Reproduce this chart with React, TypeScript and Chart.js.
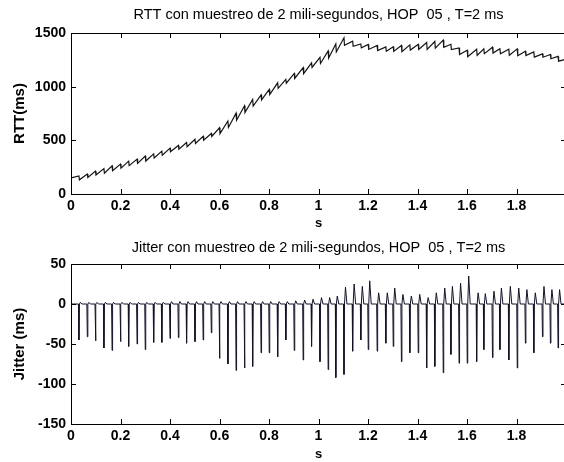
import React, { useEffect, useRef } from 'react';
import { Chart, registerables } from 'chart.js';

Chart.register(...registerables);

const rttTitle = 'RTT con muestreo de 2 mili-segundos, HOP  05 , T=2 ms';
const jitterTitle = 'Jitter con muestreo de 2 mili-segundos, HOP  05 , T=2 ms';
const rttAxisLabel = 'RTT(ms)';
const jitterAxisLabel = 'Jitter (ms)';
const timeAxisLabel = 's';

// sampling period (s)
const samplePeriod = 0.002;

// instants (s) where RTT drops / jitter spikes
const spikeTimes = [
  0.032, 0.066, 0.099, 0.133, 0.166, 0.200, 0.233, 0.267, 0.300, 0.334,
  0.367, 0.400, 0.434, 0.467, 0.501, 0.534, 0.567, 0.600, 0.634, 0.667,
  0.701, 0.734, 0.768, 0.801, 0.835, 0.868, 0.902, 0.938, 0.972, 1.006,
  1.039, 1.070, 1.103, 1.138, 1.171, 1.201, 1.237, 1.272, 1.302, 1.335,
  1.369, 1.403, 1.437, 1.470, 1.504, 1.535, 1.568, 1.601, 1.639, 1.668,
  1.703, 1.733, 1.769, 1.803, 1.836, 1.870, 1.905, 1.937, 1.968,
];

// RTT just before each drop (ms)
const rttPeaks = [
  168, 186, 213, 237, 263, 279, 306, 325, 353, 374,
  399, 427, 452, 480, 509, 538, 564, 617, 680, 753,
  822, 881, 924, 974, 1036, 1068, 1123, 1178, 1221, 1274,
  1333, 1397, 1455, 1424, 1398, 1393, 1384, 1370, 1371, 1384,
  1389, 1394, 1412, 1421, 1434, 1395, 1360, 1340, 1349, 1353,
  1367, 1353, 1348, 1352, 1330, 1324, 1306, 1300, 1282,
];

// RTT just after each drop (ms)
const rttTroughs = [
  132, 154, 177, 193, 217, 241, 264, 285, 307, 336,
  361, 393, 418, 440, 471, 502, 536, 563, 620, 687,
  758, 819, 876, 926, 984, 1032, 1077, 1122, 1179, 1216,
  1267, 1323, 1385, 1376, 1362, 1347, 1336, 1330, 1329, 1326,
  1341, 1346, 1348, 1359, 1366, 1345, 1300, 1280, 1291, 1307,
  1313, 1307, 1292, 1288, 1290, 1276, 1274, 1260, 1238,
];

const rttStart = { t: 0, v: 150 };
const rttEnd = { t: 1.998, v: 1255 };

// negative jitter spikes (ms)
const jitterNeg = [
  -45, -41, -46, -55, -58, -47, -53, -50, -57, -48,
  -48, -43, -42, -49, -47, -45, -36, -68, -75, -83,
  -80, -78, -61, -61, -66, -45, -58, -70, -53, -72,
  -82, -92, -88, -59, -45, -57, -59, -49, -53, -72,
  -61, -61, -80, -78, -86, -63, -74, -74, -72, -57,
  -67, -57, -70, -80, -49, -61, -41, -49, -55,
];

// positive rebound after each spike (ms)
const jitterPos = [
  2, 2, 2, 2, 2, 2, 2, 2, 2, 2,
  2, 3, 3, 3, 3, 3, 3, 3, 3, 3,
  3, 3, 3, 3, 3, 3, 4, 5, 6, 8,
  8, 10, 21, 25, 22, 29, 14, 14, 20, 12,
  10, 12, 8, 14, 20, 22, 26, 35, 14, 13,
  16, 20, 22, 20, 18, 14, 22, 18, 18,
];

const xMin = 0;
const xMax = 2;
const xStep = 0.2;
const rttMin = 0;
const rttMax = 1500;
const rttStep = 500;
const jitMin = -150;
const jitMax = 50;
const jitStep = 50;

const FONT = '"Liberation Sans", Arial, Helvetica, sans-serif';

const rttPoints = (() => {
  const pts: { x: number; y: number }[] = [{ x: rttStart.t, y: rttStart.v }];
  spikeTimes.forEach((t, i) => {
    pts.push({ x: t, y: rttPeaks[i] });
    pts.push({ x: t + samplePeriod, y: rttTroughs[i] });
  });
  pts.push({ x: rttEnd.t, y: rttEnd.v });
  return pts;
})();

const jitterPoints = (() => {
  const pts: { x: number; y: number }[] = [{ x: xMin, y: 0 }];
  spikeTimes.forEach((t, i) => {
    pts.push({ x: t - samplePeriod, y: 0 });
    pts.push({ x: t, y: jitterNeg[i] });
    pts.push({ x: t + samplePeriod, y: 0 });
    pts.push({ x: t + 3 * samplePeriod, y: jitterPos[i] });
    pts.push({ x: t + 6 * samplePeriod, y: 0 });
  });
  pts.push({ x: xMax, y: 0 });
  return pts;
})();

const boxPlugin = {
  id: 'matlabBox',
  afterDraw(chart: any) {
    const { ctx, chartArea: a, scales } = chart;
    const xs = scales.x;
    const ys = scales.y;
    ctx.save();
    ctx.strokeStyle = '#000';
    ctx.lineWidth = 1;
    ctx.strokeRect(a.left + 0.5, a.top + 0.5, a.right - a.left, a.bottom - a.top);
    ctx.beginPath();
    xs.ticks.forEach((tk: any) => {
      const p = Math.round(xs.getPixelForValue(tk.value)) + 0.5;
      if (p > a.left + 2 && p < a.right - 2) {
        ctx.moveTo(p, a.bottom);
        ctx.lineTo(p, a.bottom - 5);
        ctx.moveTo(p, a.top);
        ctx.lineTo(p, a.top + 5);
      }
    });
    ys.ticks.forEach((tk: any) => {
      const p = Math.round(ys.getPixelForValue(tk.value)) + 0.5;
      if (p > a.top + 2 && p < a.bottom - 2) {
        ctx.moveTo(a.left, p);
        ctx.lineTo(a.left + 5, p);
        ctx.moveTo(a.right, p);
        ctx.lineTo(a.right - 5, p);
      }
    });
    ctx.stroke();
    ctx.restore();
  },
};

function makeConfig(opts: {
  points: { x: number; y: number }[];
  color: string;
  width: number;
  title: string;
  titlePad: { top: number; bottom: number };
  yLabel: string;
  yMin: number;
  yMax: number;
  yStep: number;
  xAxisHeight: number;
}) {
  return {
    type: 'line' as const,
    data: {
      datasets: [
        {
          data: opts.points,
          borderColor: opts.color,
          borderWidth: opts.width,
          pointRadius: 0,
          tension: 0,
          fill: false,
        },
      ],
    },
    options: {
      animation: false as const,
      responsive: false,
      events: [],
      layout: { padding: { left: 0, right: 14, top: 0, bottom: 0 } },
      plugins: {
        legend: { display: false },
        tooltip: { enabled: false },
        title: {
          display: true,
          text: opts.title,
          fullSize: false,
          color: '#000',
          font: { family: FONT, size: 14.5, weight: 'normal' as const },
          padding: opts.titlePad,
        },
      },
      scales: {
        x: {
          type: 'linear' as const,
          min: xMin,
          max: xMax,
          grid: { display: false, drawTicks: false },
          border: { display: false },
          ticks: {
            stepSize: xStep,
            padding: 4,
            maxRotation: 0,
            autoSkip: false,
            color: '#000',
            font: { family: FONT, size: 14, weight: 'bold' as const },
            callback: (v: any) => {
              const n = Number(Number(v).toFixed(1));
              return n >= xMax ? '' : String(n);
            },
          },
          title: {
            display: true,
            text: timeAxisLabel,
            color: '#000',
            font: { family: FONT, size: 13, weight: 'bold' as const },
            padding: { top: 0, bottom: 0 },
          },
          afterFit: (s: any) => {
            s.height = opts.xAxisHeight;
          },
        },
        y: {
          type: 'linear' as const,
          min: opts.yMin,
          max: opts.yMax,
          grid: { display: false, drawTicks: false },
          border: { display: false },
          ticks: {
            stepSize: opts.yStep,
            padding: 5,
            color: '#000',
            font: { family: FONT, size: 14, weight: 'bold' as const },
            callback: (v: any) => String(Number(v)),
          },
          title: {
            display: true,
            text: opts.yLabel,
            color: '#000',
            font: { family: FONT, size: 15, weight: 'bold' as const },
            padding: { top: 11, bottom: 0 },
          },
          afterFit: (s: any) => {
            s.width = 71;
          },
        },
      },
    },
    plugins: [boxPlugin],
  };
}

export default function App() {
  const topRef = useRef<HTMLCanvasElement>(null);
  const botRef = useRef<HTMLCanvasElement>(null);

  useEffect(() => {
    const c1 = new Chart(
      topRef.current as HTMLCanvasElement,
      makeConfig({
        points: rttPoints,
        color: '#141414',
        width: 1.2,
        title: rttTitle,
        titlePad: { top: 5.8, bottom: 9.8 },
        yLabel: rttAxisLabel,
        yMin: rttMin,
        yMax: rttMax,
        yStep: rttStep,
        xAxisHeight: 37,
      }) as any
    );
    const c2 = new Chart(
      botRef.current as HTMLCanvasElement,
      makeConfig({
        points: jitterPoints,
        color: '#12122a',
        width: 1,
        title: jitterTitle,
        titlePad: { top: 8.3, bottom: 7.3 },
        yLabel: jitterAxisLabel,
        yMin: jitMin,
        yMax: jitMax,
        yStep: jitStep,
        xAxisHeight: 38,
      }) as any
    );
    return () => {
      c1.destroy();
      c2.destroy();
    };
  }, []);

  return (
    <div
      style={{
        position: 'fixed',
        left: 0,
        top: 0,
        width: 564,
        height: 462,
        overflow: 'hidden',
        background: '#fff',
      }}
    >
      <canvas
        ref={topRef}
        width={580}
        height={231}
        style={{ position: 'absolute', left: 0, top: 0 }}
      />
      <canvas
        ref={botRef}
        width={580}
        height={231}
        style={{ position: 'absolute', left: 0, top: 231 }}
      />
    </div>
  );
}
